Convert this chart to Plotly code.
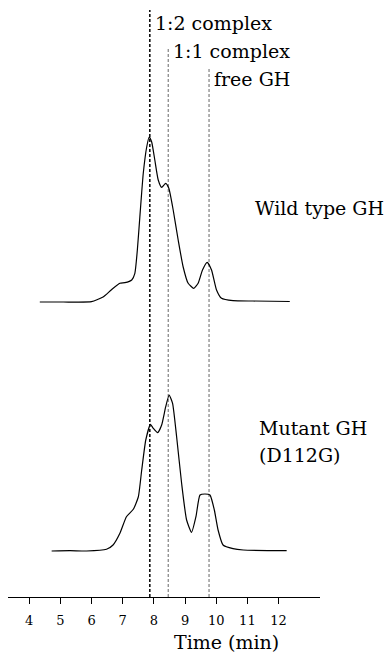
import plotly.graph_objects as go

# ---- data ----
wt_time = [4.34, 5.09, 6.0, 6.37, 6.64, 6.91, 7.07, 7.29, 7.39, 7.47, 7.55, 7.66, 7.77, 7.85, 7.93,
           8.03, 8.14, 8.25, 8.38, 8.48, 8.62, 8.78, 8.94, 9.1, 9.28, 9.42, 9.56, 9.71, 9.85,
           10.01, 10.17, 10.54, 11.18, 12.36]
wt_signal = [0, 0, 0.3, 5, 12.3, 18.7, 19.3, 22, 28.7, 52, 85, 128.7, 155, 165, 160,
             142, 122, 114.7, 118.7, 113.7, 92, 62, 35, 18.7, 13.7, 18.7, 32, 39.7, 32,
             12, 3.7, 1.3, 1, 0.5]

mut_time = [4.72, 5.31, 5.84, 6.48, 6.69, 6.91, 7.12, 7.34, 7.5, 7.61, 7.74, 7.89, 7.98, 8.12,
            8.25, 8.38, 8.49, 8.6, 8.73, 8.89, 9.05, 9.21, 9.35, 9.48, 9.64, 9.8, 9.94,
            10.06, 10.22, 10.54, 10.87, 12.26]
mut_signal = [0, 0.3, 0, 1.7, 6, 17.7, 34.3, 41.7, 54, 81, 111, 126.7, 122.7, 118.3,
              126, 144.3, 156, 147.7, 114.3, 67.7, 31, 18.7, 34.3, 56, 57, 56, 41,
              21, 6, 2.3, 1, 0.3]

marker_times = [7.87, 8.46, 9.77]
marker_labels = ["1:2 complex", "1:1 complex", "free GH"]
tick_vals = [4, 5, 6, 7, 8, 9, 10, 11, 12]
tick_text = ["4", "5", "6", "7", "8", "9", "10", "11", "12"]
series_labels = ["Wild type GH", "Mutant GH", "(D112G)"]
x_title = "Time (min)"

# ---- styling / layout constants ----
WT_OFFSET = 295
MUT_OFFSET = 46
FONT = "DejaVu Serif"
line_tops = [587, 550, 529]
line_styles = [dict(color="black", width=1.5, dash="3px,2px"),
               dict(color="#666666", width=1, dash="3px,2px"),
               dict(color="#666666", width=1, dash="3px,2px")]
label_y = [574, 546, 518]

fig = go.Figure()
fig.add_trace(go.Scatter(x=wt_time, y=[v + WT_OFFSET for v in wt_signal], mode="lines",
                         line=dict(color="black", width=1.2, shape="spline", smoothing=0.5),
                         hoverinfo="skip", showlegend=False))
fig.add_trace(go.Scatter(x=mut_time, y=[v + MUT_OFFSET for v in mut_signal], mode="lines",
                         line=dict(color="black", width=1.2, shape="spline", smoothing=0.5),
                         hoverinfo="skip", showlegend=False))

for t, top, st in zip(marker_times, line_tops, line_styles):
    fig.add_shape(type="line", x0=t, x1=t, y0=0, y1=top, xref="x", yref="y", line=st, layer="below")

anns = []
for t, lab, yy in zip(marker_times, marker_labels, label_y):
    anns.append(dict(x=t, y=yy, text=lab, xref="x", yref="y", xanchor="left", yanchor="middle",
                     xshift=3, showarrow=False, font=dict(family=FONT, size=19, color="black")))
anns.append(dict(x=11.19, y=389, text=series_labels[0], xref="x", yref="y", xanchor="left",
                 yanchor="middle", showarrow=False, font=dict(family=FONT, size=19, color="black")))
anns.append(dict(x=11.3, y=169, text=series_labels[1], xref="x", yref="y", xanchor="left",
                 yanchor="middle", showarrow=False, font=dict(family=FONT, size=19, color="black")))
anns.append(dict(x=11.3, y=142, text=series_labels[2], xref="x", yref="y", xanchor="left",
                 yanchor="middle", showarrow=False, font=dict(family=FONT, size=19, color="black")))
anns.append(dict(x=10.33, y=-45 / 597, text=x_title, xref="x", yref="paper", xanchor="center",
                 yanchor="middle", showarrow=False, font=dict(family=FONT, size=19, color="black")))

fig.update_layout(
    width=391, height=662,
    margin=dict(l=0, r=0, t=0, b=65),
    paper_bgcolor="white", plot_bgcolor="white",
    annotations=anns,
    xaxis=dict(domain=[8 / 391, 320 / 391], range=[3.32, 13.33], showgrid=False, zeroline=False,
               showline=True, linecolor="black", linewidth=1,
               ticks="outside", ticklen=6, tickcolor="black", tickwidth=1,
               tickvals=tick_vals, ticktext=tick_text, ticklabelstandoff=5,
               tickfont=dict(family=FONT, size=13, color="black")),
    yaxis=dict(range=[0, 597], visible=False, showgrid=False, zeroline=False),
)

fig.write_html("out.html")
